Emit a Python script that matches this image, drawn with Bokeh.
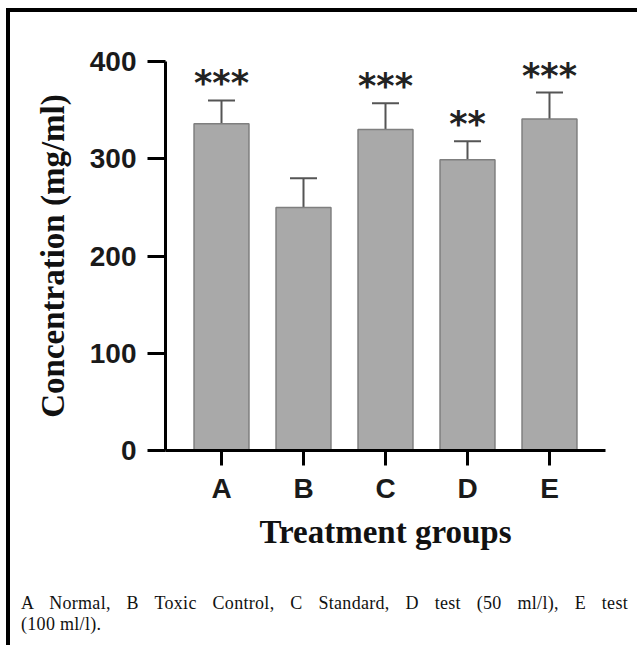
from bokeh.plotting import figure
from bokeh.layouts import column
from bokeh.models import (FixedTicker, Whisker, TeeHead, ColumnDataSource, Range1d, Div)
from bokeh.core.properties import value
from bokeh.embed import file_html
from bokeh.resources import INLINE

# ---- data ----
groups = ["A", "B", "C", "D", "E"]
means = [336, 250, 330, 299, 341]
errors = [24, 30, 27, 19, 27]
stars = ["***", "", "***", "**", "***"]
y_ticks = [0, 100, 200, 300, 400]
y_label = "Concentration (mg/ml)"
x_label = "Treatment groups"
caption_lines = ["A Normal, B Toxic Control, C Standard, D test (50 ml/l), E test",
                 "(100 ml/l)."]

xs = list(range(1, len(groups) + 1))
upper = [m + e for m, e in zip(means, errors)]
src = ColumnDataSource(dict(x=xs, mean=means, upper=upper, stars=stars))

# page offset produced by the outer frame (margin + border)
OX, OY = 10, 12
W = 637 - OX
PLOT_BOTTOM = 570            # page y where the figure ends and the caption starts
H = PLOT_BOTTOM - OY
FL, FT, FB, FR = 165 - OX, 61 - OY, 450 - OY, 605 - OX

p = figure(width=W, height=H, output_backend="svg", toolbar_location=None,
           x_range=Range1d(0.317, 5.683), y_range=Range1d(0, 400),
           min_border_left=FL, min_border_right=W - FR, min_border_top=FT,
           min_border_bottom=H - FB)
p.outline_line_color = None
p.xgrid.visible = False
p.ygrid.visible = False
p.background_fill_color = "white"
p.border_fill_color = "white"

p.vbar(x="x", top="mean", bottom=0, width=0.67, source=src,
       fill_color="#a9a9a9", line_color="#7f7f7f", line_width=1.5)

wh = Whisker(base="x", lower="mean", upper="upper", source=src,
             line_color="#555555", line_width=2,
             upper_head=TeeHead(size=27, line_color="#555555", line_width=2),
             lower_head=None)
p.add_layout(wh)

p.text(x="x", y="upper", text="stars", source=src, text_align="center",
       text_baseline="alphabetic", y_offset=-17, text_font=value("DejaVu Sans"),
       text_font_style="bold", text_font_size="35px", text_color="#222222")

# axes
p.xaxis.ticker = FixedTicker(ticks=xs)
p.xaxis.major_label_overrides = {x: g for x, g in zip(xs, groups)}
p.yaxis.ticker = FixedTicker(ticks=y_ticks)
for ax, tick_out, standoff in ((p.xaxis[0], 15, 7), (p.yaxis[0], 18, 11)):
    ax.axis_line_width = 3
    ax.axis_line_color = "black"
    ax.major_tick_line_width = 3
    ax.major_tick_line_color = "black"
    ax.major_tick_in = 0
    ax.major_tick_out = tick_out
    ax.minor_tick_line_color = None
    ax.major_label_standoff = standoff
    ax.major_label_text_font = "Liberation Sans"
    ax.major_label_text_font_style = "bold"
    ax.major_label_text_font_size = "28px"
    ax.major_label_text_color = "#1a1a1a"
    ax.axis_label_text_font = "Liberation Serif"
    ax.axis_label_text_font_style = "bold"
    ax.axis_label_text_font_size = "33px"
    ax.axis_label_text_color = "#111111"
p.xaxis.axis_label = x_label
p.yaxis.axis_label = y_label
p.xaxis.axis_label_standoff = 7
p.yaxis.axis_label_standoff = 16

# caption below the chart (justified first line, like the source page)
cap_html = (
    '<div style="margin-left:6px; padding-top:18px; width:607px; '
    "font-family:'Liberation Serif', serif; font-size:18px; line-height:21px; "
    'letter-spacing:0.3px; color:#111111;">'
    f'<div style="text-align:justify; text-align-last:justify;">{caption_lines[0]}</div>'
    f'<div>{caption_lines[1]}</div></div>'
)
cap = Div(text=cap_html, width=W, height=645 - PLOT_BOTTOM)

page = column(p, cap, spacing=0)
page.styles = {"border-top": "4px solid black", "border-left": "4px solid black",
               "margin-left": "6px", "margin-top": "8px"}

open("out.html", "w").write(file_html(page, INLINE))
